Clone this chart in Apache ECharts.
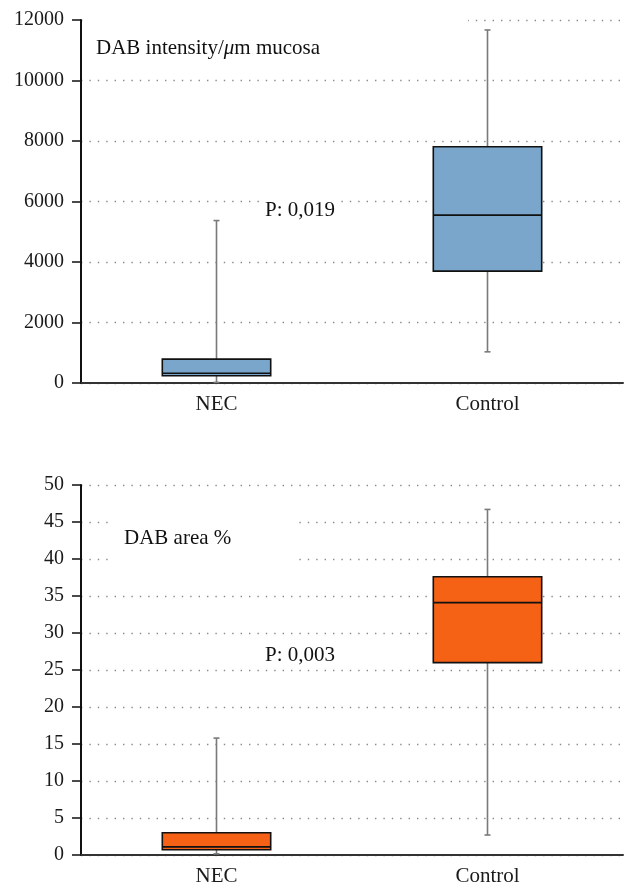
<!DOCTYPE html>
<html><head><meta charset="utf-8">
<script src="https://cdn.jsdelivr.net/npm/echarts@6/dist/echarts.min.js"></script>
<style>html,body{margin:0;padding:0;background:#fff}#c{width:638px;height:896px}</style>
</head><body><div id="c"></div>
<script>
// categories
var categories = ['NEC', 'Control'];
// DAB intensity per µm mucosa: [min, Q1, median, Q3, max]
var intensityNEC = [20, 240, 320, 790, 5370];
var intensityControl = [1030, 3700, 5550, 7810, 11670];
// DAB area %: [min, Q1, median, Q3, max]
var areaNEC = [0.15, 0.7, 1.1, 3.0, 15.8];
var areaControl = [2.7, 26.0, 34.1, 37.6, 46.7];
// axis ticks
var intensityTicks = {min: 0, max: 12000, interval: 2000};
var areaTicks = {min: 0, max: 50, interval: 5};
var pIntensity = 'P: 0,019';
var pArea = 'P: 0,003';

var FONT = '"Liberation Serif","DejaVu Serif",serif';

function renderBox(fill) {
  return function (params, api) {
    var x = api.value(0);
    var pMin = api.coord([x, api.value(1)]);
    var pQ1 = api.coord([x, api.value(2)]);
    var pMed = api.coord([x, api.value(3)]);
    var pQ3 = api.coord([x, api.value(4)]);
    var pMax = api.coord([x, api.value(5)]);
    var bw = api.size([1, 0])[0] * 0.4;
    var cx = pMed[0];
    var cap = 3;
    var wStyle = {stroke: '#7a7a7a', lineWidth: 1.6};
    return {
      type: 'group',
      children: [
        {type: 'line', shape: {x1: cx, y1: pMax[1], x2: cx, y2: pQ3[1]}, style: wStyle},
        {type: 'line', shape: {x1: cx, y1: pMin[1], x2: cx, y2: pQ1[1]}, style: wStyle},
        {type: 'line', shape: {x1: cx - cap, y1: pMax[1], x2: cx + cap, y2: pMax[1]}, style: wStyle},
        {type: 'line', shape: {x1: cx - cap, y1: pMin[1], x2: cx + cap, y2: pMin[1]}, style: wStyle},
        {type: 'rect', shape: {x: cx - bw / 2, y: pQ3[1], width: bw, height: pQ1[1] - pQ3[1]},
          style: {fill: fill, stroke: '#111', lineWidth: 1.6}},
        {type: 'line', shape: {x1: cx - bw / 2, y1: pMed[1], x2: cx + bw / 2, y2: pMed[1]},
          style: {stroke: '#111', lineWidth: 1.6}}
      ]
    };
  };
}

function toData(a, b) {
  return [[0].concat(a), [1].concat(b)];
}

function yAxisCfg(idx, t) {
  return {
    gridIndex: idx, type: 'value', min: t.min, max: t.max, interval: t.interval,
    axisLine: {show: true, lineStyle: {color: '#111', width: 2}},
    axisTick: {show: true, length: 9, lineStyle: {color: '#111', width: 1.5}},
    axisLabel: {color: '#1a1a1a', fontFamily: FONT, fontSize: 20, margin: 17,
      formatter: function (v) { return String(v); }},
    splitLine: {show: true, lineStyle: {color: '#8a8a8a', width: 1.4, type: [1.4, 7]}}
  };
}
function xAxisCfg(idx) {
  return {
    gridIndex: idx, type: 'category', data: categories,
    axisLine: {show: true, lineStyle: {color: '#333', width: 2}},
    axisTick: {show: false},
    axisLabel: {color: '#1a1a1a', fontFamily: FONT, fontSize: 21, margin: 11}
  };
}

var chart = echarts.init(document.getElementById('c'));
chart.setOption({
  animation: false,
  backgroundColor: '#fff',
  grid: [
    {left: 81, right: 15, top: 20, height: 363},
    {left: 81, right: 15, top: 485, height: 370}
  ],
  xAxis: [xAxisCfg(0), xAxisCfg(1)],
  yAxis: [yAxisCfg(0, intensityTicks), yAxisCfg(1, areaTicks)],
  series: [
    {type: 'custom', xAxisIndex: 0, yAxisIndex: 0, data: toData(intensityNEC, intensityControl),
      encode: {x: 0, y: [1, 2, 3, 4, 5]}, renderItem: renderBox('#7aa6cc'), z: 5},
    {type: 'custom', xAxisIndex: 1, yAxisIndex: 1, data: toData(areaNEC, areaControl),
      encode: {x: 0, y: [1, 2, 3, 4, 5]}, renderItem: renderBox('#f56216'), z: 5}
  ],
  graphic: [
    // white label boxes masking the grid
    {type: 'rect', shape: {x: 83, y: 12, width: 385, height: 62}, style: {fill: '#fff'}, z: 3},
    {type: 'rect', shape: {x: 110, y: 514, width: 183, height: 50}, style: {fill: '#fff'}, z: 3},
    {type: 'text', x: 96, y: 48, z: 10,
      style: {text: '{n|DAB intensity/}{i|μ}{n|m mucosa}', verticalAlign: 'middle',
        rich: {n: {fontFamily: FONT, fontSize: 21, fill: '#111'},
               i: {fontFamily: FONT, fontSize: 21, fontStyle: 'italic', fill: '#111'}}}},
    {type: 'text', x: 124, y: 538, z: 10,
      style: {text: 'DAB area %', fontFamily: FONT, fontSize: 21, fill: '#111', verticalAlign: 'middle'}},
    {type: 'text', x: 262, y: 210, z: 10,
      style: {text: pIntensity, fontFamily: FONT, fontSize: 21, fill: '#111', verticalAlign: 'middle',
        backgroundColor: '#fff', padding: [2, 3]}},
    {type: 'text', x: 265, y: 655, z: 10,
      style: {text: pArea, fontFamily: FONT, fontSize: 21, fill: '#111', verticalAlign: 'middle'}},
    // page crop at the bottom edge, as in the reference
    {type: 'rect', shape: {x: 0, y: 884, width: 638, height: 12}, style: {fill: '#fff'}, z: 20}
  ]
});
</script>
</body></html>
